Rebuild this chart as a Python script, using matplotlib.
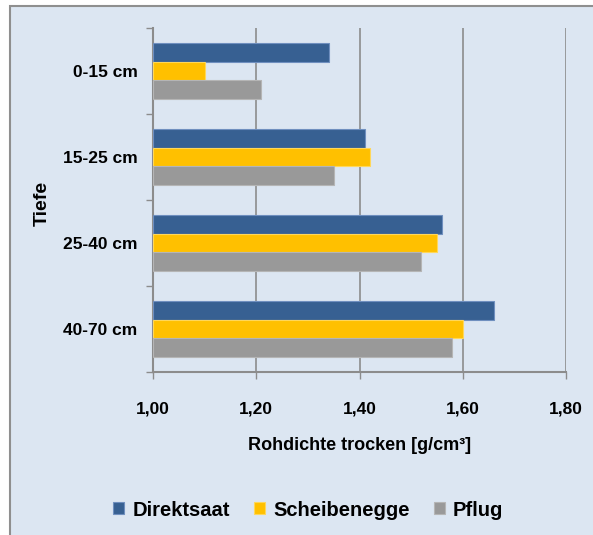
#!/usr/bin/env python3
import numpy as np
import matplotlib.pyplot as plt
from matplotlib.patches import Rectangle
from matplotlib.ticker import FixedLocator

# Daten
tiefen = ['0-15 cm', '15-25 cm', '25-40 cm', '40-70 cm']
direktsaat = [1.34, 1.41, 1.56, 1.66]
scheibenegge = [1.10, 1.42, 1.55, 1.60]
pflug = [1.21, 1.35, 1.52, 1.58]
serien = ['Direktsaat', 'Scheibenegge', 'Pflug']
farben = ['#376092', '#FFC000', '#999999']
kanten = ['#6f8fbf', '#ffd75a', '#b5b5b5']
x_ticks = [1.0, 1.2, 1.4, 1.6, 1.8]
x_labels = ['1,00', '1,20', '1,40', '1,60', '1,80']

bg = '#dce6f2'
achse = '#8c8c8c'
narrow = ['Liberation Sans Narrow', 'Liberation Sans', 'DejaVu Sans']

fig = plt.figure(figsize=(5.93, 5.35), dpi=100)
fig.patch.set_facecolor('white')
# Diagrammbereich mit Rahmen
fig.patches.append(Rectangle((10 / 593, -0.05), 1.2, 1 - 6 / 535 + 0.05,
                             transform=fig.transFigure, facecolor=bg,
                             edgecolor='#8f8f8f', linewidth=1.5, zorder=-5))

ax = fig.add_axes([153 / 593, 1 - 372 / 535, 413 / 593, 344 / 535])
ax.set_facecolor(bg)

y = np.arange(len(tiefen))
h = 0.22
for i, (werte, name) in enumerate(zip([direktsaat, scheibenegge, pflug], serien)):
    ax.barh(y + (i - 1) * h, np.array(werte) - 1.0, left=1.0, height=h,
            color=farben[i], edgecolor=kanten[i], linewidth=0.8, label=name, zorder=3)

ax.set_xlim(1.0, 1.8)
ax.set_ylim(3.5, -0.5)
ax.set_xticks(x_ticks)
ax.set_xticklabels(x_labels, fontfamily=narrow, fontweight='bold', fontsize=12.5)
ax.tick_params(axis='x', direction='out', length=5, width=1, color=achse, pad=16)

ax.yaxis.set_major_locator(FixedLocator(np.arange(-0.5, 4.0, 1.0)))
ax.yaxis.set_major_formatter(plt.NullFormatter())
ax.yaxis.set_minor_locator(FixedLocator(y))
ax.set_yticklabels(tiefen, minor=True, fontfamily=narrow, fontweight='bold', fontsize=12.5)
ax.tick_params(axis='y', which='major', direction='out', length=5, width=1, color=achse)
ax.tick_params(axis='y', which='minor', length=0, pad=11)

ax.grid(axis='x', color=achse, linewidth=1.2, zorder=1)
ax.set_axisbelow(True)
for s in ['top', 'right']:
    ax.spines[s].set_visible(False)
for s in ['left', 'bottom']:
    ax.spines[s].set_color(achse)
    ax.spines[s].set_linewidth(1.5)

ax.set_xlabel('Rohdichte trocken [g/cm³]', fontfamily=narrow, fontweight='bold',
              fontsize=13, labelpad=15)
fig.text(42 / 593, 1 - 203 / 535, 'Tiefe', rotation=90, ha='center', va='center',
         fontfamily='Liberation Sans', fontweight='bold', fontsize=14)

leg = fig.legend(loc='center', bbox_to_anchor=(0.52, 1 - 510 / 535), ncol=3,
                 frameon=False, prop={'family': narrow, 'weight': 'bold', 'size': 14.5},
                 handlelength=0.55, handleheight=0.55, handletextpad=0.4,
                 columnspacing=1.2)

fig.savefig('out.png', dpi=100, facecolor=fig.get_facecolor())
